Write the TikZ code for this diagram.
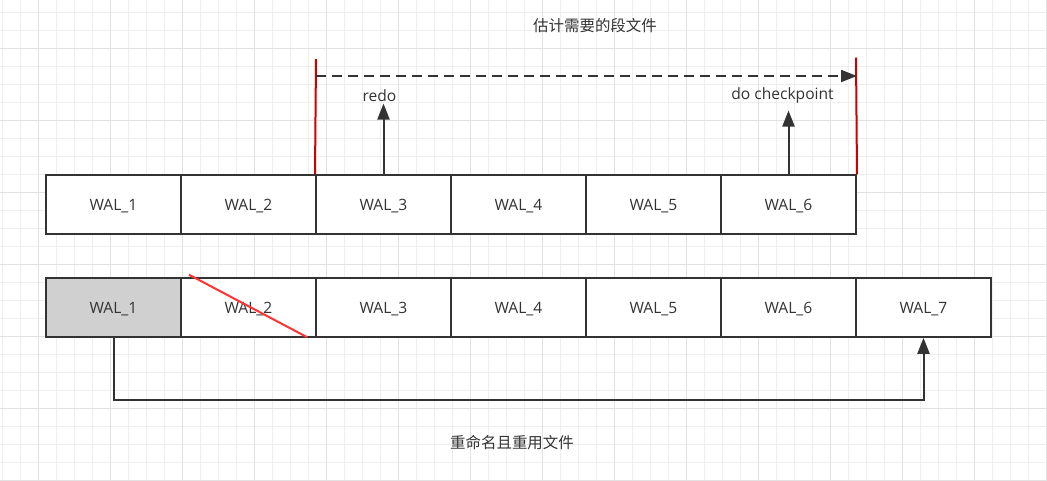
\documentclass[tikz,border=0pt]{standalone}
\usepackage{fontspec}
\setmainfont{Open Sans}
\newfontfamily\cjk{Noto Sans CJK SC}
\usetikzlibrary{arrows.meta}
\definecolor{linec}{HTML}{333333}
\definecolor{textc}{HTML}{333333}
\definecolor{grayfill}{HTML}{D0D0D0}
\definecolor{redv}{HTML}{CC0000}
\definecolor{redd}{HTML}{FF3333}
\definecolor{gridminor}{HTML}{EFEFEF}
\definecolor{gridmajor}{HTML}{E2E2E2}
\tikzset{
  walbox/.style={draw=linec, line width=1.5pt, fill=white, minimum width=101.25pt,
    minimum height=43.9pt, inner sep=0pt, text=textc, text depth=0pt,
    font=\fontsize{11.7pt}{14pt}\selectfont},
  lbl/.style={inner sep=0pt, text=textc, font=\fontsize{11.7pt}{14pt}\selectfont},
  cjklbl/.style={inner sep=0pt, text=textc, font=\fontsize{11.6pt}{14pt}\selectfont\cjk},
  conn/.style={draw=linec, line width=1.5pt},
  arr/.style={conn, -{Triangle[length=12pt, width=9pt]}},
  redline/.style={draw=redv, line width=1.5pt},
}
\begin{document}
\begin{tikzpicture}[x=0.75pt, y=-0.75pt]
\useasboundingbox (0,0) rectangle (1047,480);
\fill[white] (0,0) rectangle (1047,480);
% grid
\foreach \i in {0,...,58} {
  \draw[gridminor, line width=0.75pt] ({2.3+18*\i},0) -- ({2.3+18*\i},480);
}
\foreach \i in {0,...,26} {
  \draw[gridminor, line width=0.75pt] (0,{12.3+18*\i}) -- (1047,{12.3+18*\i});
}
\foreach \i in {0,...,14} {
  \draw[gridmajor, line width=0.75pt] ({38.3+72*\i},0) -- ({38.3+72*\i},480);
}
\foreach \i in {0,...,6} {
  \draw[gridmajor, line width=0.75pt] (0,{48.3+72*\i}) -- (1047,{48.3+72*\i});
}
% top row
\foreach \k in {1,...,6} {
  \node[walbox] (t\k) at ({113.5+135*(\k-1)},204.6) {WAL\_\k};
}
% bottom row
\foreach \k in {1,...,7} {
  \node[walbox] (b\k) at ({113.5+135*(\k-1)},307.5) {WAL\_\k};
}
\node[walbox, fill=grayfill] at (b1) {WAL\_1};
% labels
\node[cjklbl] (title) at (595,26) {估计需要的段文件};
\node[cjklbl] (reuse) at (512,443) {重命名且重用文件};
\node[lbl] (redo) at (379.5,96) {redo};
\node[lbl] (ckpt) at (782.5,95) {do checkpoint};
% coordinates
\coordinate (redtopL) at (316,59);
\coordinate (redtopR) at (856,57.5);
\coordinate (dashS) at (316,76);
\coordinate (dashE) at (857,76);
\coordinate (redoTip) at (383.5,103.5);
\coordinate (ckptTip) at (788.5,110.5);
\coordinate (loopL) at (113.5,400);
\coordinate (loopR) at (923.5,400);
\coordinate (strikeS) at (189,274.7);
\coordinate (strikeE) at (307.3,337.3);
% red vertical lines
\draw[redline] (t3.north west) -- (redtopL);
\draw[redline] (t6.north east) -- (redtopR);
% dashed arrow
\draw[arr, dash pattern=on 7.5pt off 4.5pt] (dashS) -- (dashE);
% up arrows
\draw[arr] (t3.north) -- (redoTip);
\draw[arr] (t6.north) -- (ckptTip);
% loop connector
\draw[arr] (b1.south) -- (loopL) -- (loopR) -- (b7.south);
% strike
\draw[redd, line width=1.5pt] (strikeS) -- (strikeE);
\end{tikzpicture}
\end{document}
